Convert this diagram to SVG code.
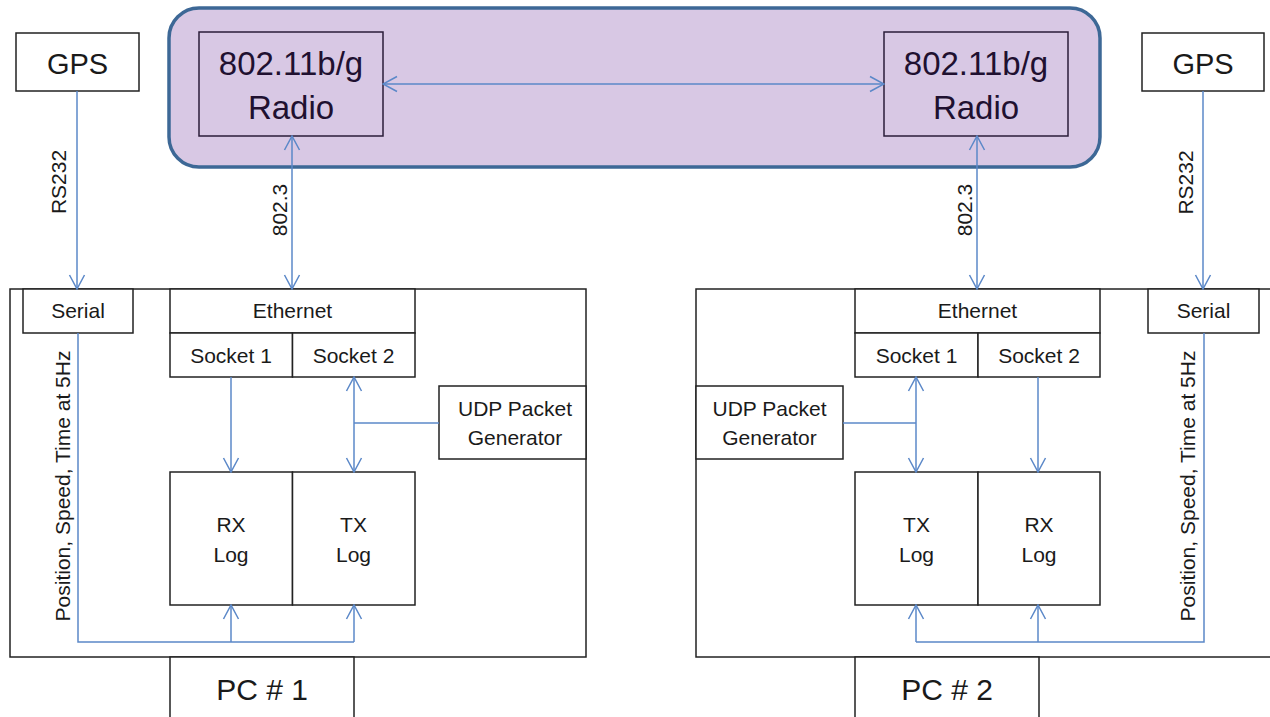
<svg xmlns="http://www.w3.org/2000/svg" width="1270" height="717" viewBox="0 0 1270 717">
<style>
.box{fill:#fff;stroke:#222;stroke-width:1.5}
.rbox{fill:#d8c8e4;stroke:#2a1c38;stroke-width:1.5}
.t{font-family:"Liberation Sans",Arial,sans-serif;fill:#1a1a1a;text-anchor:middle}
.s{font-size:21px}
.big{font-size:33px;fill:#201030}
.gps{font-size:29px}
.pc{font-size:30px}
.c{fill:none;stroke:#5b88c8;stroke-width:1.5}
</style>
<defs>
<marker id="ah" viewBox="-16 -9 17 18" refX="0" refY="0" markerWidth="17" markerHeight="18" markerUnits="userSpaceOnUse" orient="auto-start-reverse">
<path d="M-14,-7.5 L0,0 L-14,7.5" fill="none" stroke="#5b88c8" stroke-width="1.5"/>
</marker>
</defs>
<rect width="1270" height="717" fill="#fff"/>

<g id="wireless">
<rect x="169" y="8" width="931" height="159" rx="30" ry="30" fill="#d8c8e4" stroke="#3d6896" stroke-width="3.5"/>
</g>
<g id="radio1">
<rect class="rbox" x="199" y="32" width="184" height="104"/>
<text class="t big" x="291" y="75">802.11b/g</text>
<text class="t big" x="291" y="119">Radio</text>
</g>
<g id="radio2">
<rect class="rbox" x="884" y="32" width="184" height="104"/>
<text class="t big" x="976" y="75">802.11b/g</text>
<text class="t big" x="976" y="119">Radio</text>
</g>

<g id="gps1">
<rect class="box" x="16" y="33" width="123" height="58"/>
<text class="t gps" x="77.5" y="74">GPS</text>
</g>
<g id="gps2">
<rect class="box" x="1142" y="33" width="122" height="58"/>
<text class="t gps" x="1203" y="74">GPS</text>
</g>

<g id="pc1">
<rect class="box" x="10" y="289" width="576" height="368"/>
</g>
<g id="pc1label">
<rect class="box" x="170" y="657" width="184" height="62"/>
<text class="t pc" x="262" y="700">PC # 1</text>
</g>
<g id="serial1">
<rect class="box" x="23" y="289" width="110" height="44"/>
<text class="t s" x="78" y="318">Serial</text>
</g>
<g id="ethernet1">
<rect class="box" x="170" y="289" width="245" height="44"/>
<text class="t s" x="292.5" y="318">Ethernet</text>
</g>
<g id="socket1a">
<rect class="box" x="170" y="333" width="122.5" height="44"/>
<text class="t s" x="231" y="363">Socket 1</text>
</g>
<g id="socket2a">
<rect class="box" x="292.5" y="333" width="122.5" height="44"/>
<text class="t s" x="353.5" y="363">Socket 2</text>
</g>
<g id="udp1">
<rect class="box" x="439" y="386" width="147" height="73"/>
<text class="t s" x="515" y="416">UDP Packet</text>
<text class="t s" x="515" y="445">Generator</text>
</g>
<g id="rxlog1">
<rect class="box" x="170" y="472" width="122.5" height="133"/>
<text class="t s" x="231" y="532">RX</text>
<text class="t s" x="231" y="562">Log</text>
</g>
<g id="txlog1">
<rect class="box" x="292.5" y="472" width="122.5" height="133"/>
<text class="t s" x="353.5" y="532">TX</text>
<text class="t s" x="353.5" y="562">Log</text>
</g>

<g id="pc2">
<rect class="box" x="696" y="289" width="580" height="368"/>
</g>
<g id="pc2label">
<rect class="box" x="855" y="657" width="184" height="62"/>
<text class="t pc" x="947" y="700">PC # 2</text>
</g>
<g id="serial2">
<rect class="box" x="1148" y="289" width="111" height="44"/>
<text class="t s" x="1203.5" y="318">Serial</text>
</g>
<g id="ethernet2">
<rect class="box" x="855" y="289" width="245" height="44"/>
<text class="t s" x="977.5" y="318">Ethernet</text>
</g>
<g id="socket1b">
<rect class="box" x="855" y="333" width="123" height="44"/>
<text class="t s" x="916.5" y="363">Socket 1</text>
</g>
<g id="socket2b">
<rect class="box" x="978" y="333" width="122" height="44"/>
<text class="t s" x="1039" y="363">Socket 2</text>
</g>
<g id="udp2">
<rect class="box" x="696" y="386" width="147" height="73"/>
<text class="t s" x="769.5" y="416">UDP Packet</text>
<text class="t s" x="769.5" y="445">Generator</text>
</g>
<g id="txlog2">
<rect class="box" x="855" y="472" width="123" height="133"/>
<text class="t s" x="916.5" y="532">TX</text>
<text class="t s" x="916.5" y="562">Log</text>
</g>
<g id="rxlog2">
<rect class="box" x="978" y="472" width="122" height="133"/>
<text class="t s" x="1039" y="532">RX</text>
<text class="t s" x="1039" y="562">Log</text>
</g>

<g id="connectors">
<line class="c" x1="383" y1="84" x2="884" y2="84" marker-start="url(#ah)" marker-end="url(#ah)"/>
<line class="c" x1="292" y1="136" x2="292" y2="289" marker-start="url(#ah)" marker-end="url(#ah)"/>
<line class="c" x1="977" y1="136" x2="977" y2="289" marker-start="url(#ah)" marker-end="url(#ah)"/>
<line class="c" x1="77" y1="91" x2="77" y2="289" marker-end="url(#ah)"/>
<line class="c" x1="1203" y1="91" x2="1203" y2="289" marker-end="url(#ah)"/>

<line class="c" x1="231" y1="377" x2="231" y2="472" marker-end="url(#ah)"/>
<line class="c" x1="354" y1="377" x2="354" y2="472" marker-start="url(#ah)" marker-end="url(#ah)"/>
<line class="c" x1="439" y1="423" x2="354" y2="423"/>
<polyline class="c" points="78,333 78,642 354,642"/>
<line class="c" x1="231" y1="642" x2="231" y2="605" marker-end="url(#ah)"/>
<line class="c" x1="354" y1="642" x2="354" y2="605" marker-end="url(#ah)"/>

<line class="c" x1="916" y1="377" x2="916" y2="472" marker-start="url(#ah)" marker-end="url(#ah)"/>
<line class="c" x1="1038" y1="377" x2="1038" y2="472" marker-end="url(#ah)"/>
<line class="c" x1="843" y1="423" x2="916" y2="423"/>
<polyline class="c" points="1204,333 1204,642 916,642"/>
<line class="c" x1="916" y1="642" x2="916" y2="605" marker-end="url(#ah)"/>
<line class="c" x1="1038" y1="642" x2="1038" y2="605" marker-end="url(#ah)"/>

<text class="t s" transform="translate(66,182) rotate(-90)">RS232</text>
<text class="t s" transform="translate(287,210) rotate(-90)">802.3</text>
<text class="t s" transform="translate(972,210) rotate(-90)">802.3</text>
<text class="t s" transform="translate(1193,182.5) rotate(-90)">RS232</text>
<text class="t s" transform="translate(70,486) rotate(-90)">Position, Speed, Time at 5Hz</text>
<text class="t s" transform="translate(1195,486) rotate(-90)">Position, Speed, Time at 5Hz</text>
</g>
</svg>
